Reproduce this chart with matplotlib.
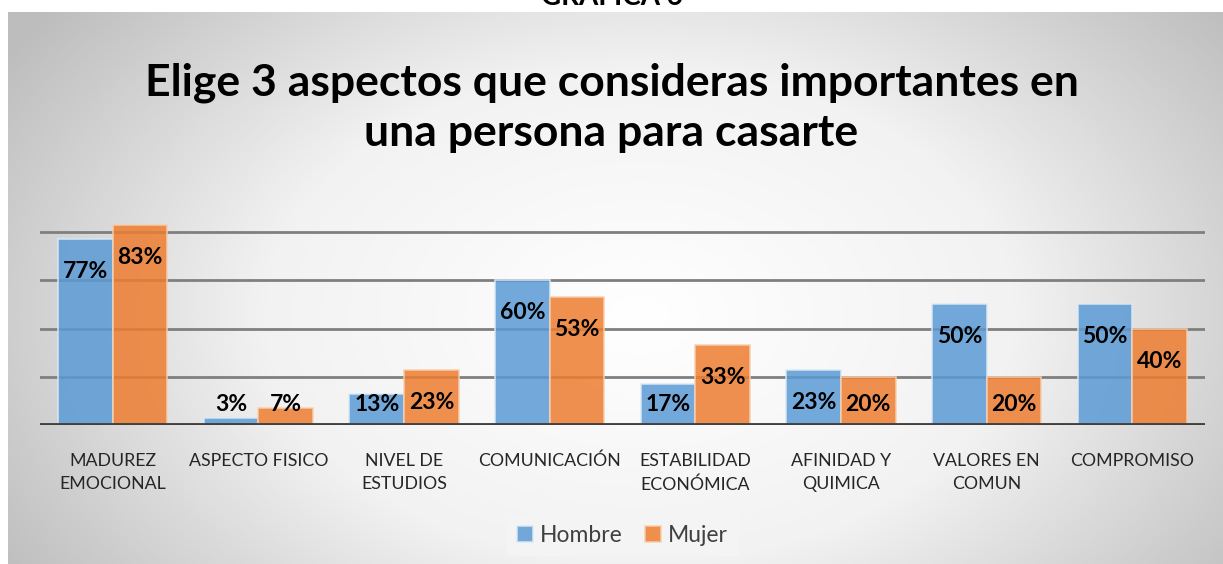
import numpy as np
import matplotlib.pyplot as plt
from matplotlib.colors import LinearSegmentedColormap

plt.rcParams["font.family"] = ["Lato", "DejaVu Sans"]

categories = ["MADUREZ\nEMOCIONAL", "ASPECTO FISICO", "NIVEL DE\nESTUDIOS", "COMUNICACIÓN",
              "ESTABILIDAD\nECONÓMICA", "AFINIDAD Y\nQUIMICA", "VALORES EN\nCOMUN", "COMPROMISO"]
hombre = [77, 3, 13, 60, 17, 23, 50, 50]
mujer = [83, 7, 23, 53, 33, 20, 20, 40]

title = "Elige 3 aspectos que consideras importantes en\nuna persona para casarte"

W, H = 1223, 564
fig = plt.figure(figsize=(W / 100, H / 100), dpi=100)
fig.patch.set_facecolor("white")

# gradient panel behind the chart
bg = fig.add_axes([8 / W, 0, 1 - 8 / W, (H - 12) / H], zorder=0)
yy, xx = np.mgrid[0:1:300j, 0:1:600j]
r = np.sqrt(((xx - 0.52) / 0.62) ** 2 + ((yy - 0.55) / 0.9) ** 2)
cmap = LinearSegmentedColormap.from_list("bgr", ["#ffffff", "#f2f2f2", "#bdbdbd"])
bg.imshow(np.clip(r, 0, 1), cmap=cmap, aspect="auto", extent=[0, 1, 0, 1], vmin=0, vmax=1)
bg.axis("off")

# heading above the panel, cut off at the top like in the source image
fig.text(0.5, 1.005, "GRAFICA 6", ha="center", va="center", fontsize=20,
         fontweight="bold", color="black", zorder=1)

fig.text(0.5, (H - 108) / H, title, ha="center", va="center", fontsize=32,
         fontweight="bold", color="black", linespacing=1.3, zorder=3)

ax = fig.add_axes([40 / W, (H - 425) / H, (1205 - 40) / W, (425 - 208) / H], zorder=2)
ax.patch.set_alpha(0)

x = np.arange(len(categories))
w = 0.375
b1 = ax.bar(x - w / 2, hombre, w, color="#5b9bd5", alpha=0.85, edgecolor="#dbe9f6", linewidth=1.2, zorder=3)
b2 = ax.bar(x + w / 2, mujer, w, color="#ed7d31", alpha=0.85, edgecolor="#f8cfae", linewidth=1.2, zorder=3)

for bars, vals in ((b1, hombre), (b2, mujer)):
    for bar, v in zip(bars, vals):
        ax.text(bar.get_x() + bar.get_width() / 2, max(v - 13.5, 8.6), f"{v}%",
                ha="center", va="center", fontsize=16.5, fontweight="bold", color="black", zorder=4)

ax.set_xlim(-0.5, len(categories) - 0.5)
ax.set_ylim(0, 90)
ax.set_yticks([20, 40, 60, 80])
ax.yaxis.grid(True, color="#7f7f7f", linewidth=2, zorder=1)
ax.axhline(0, color="#404040", linewidth=3.5, zorder=5)
ax.tick_params(axis="y", left=False, labelleft=False)
ax.tick_params(axis="x", length=0, pad=20, labelsize=12.8)
ax.set_xticks(x)
ax.set_xticklabels(categories, color="#262626", linespacing=1.55)
for s in ax.spines.values():
    s.set_visible(False)

leg = ax.legend([b1, b2], ["Hombre", "Mujer"], loc="center", bbox_to_anchor=(0.5, -0.51),
                ncol=2, frameon=True, fontsize=16.5, handlelength=0.7, handleheight=0.7,
                handletextpad=0.3, columnspacing=1.0, borderpad=0.45, fancybox=False)
leg.get_frame().set_facecolor("#f5f5f5")
leg.get_frame().set_edgecolor("none")
leg.get_frame().set_alpha(0.8)
for t in leg.get_texts():
    t.set_color("#404040")

fig.savefig("out.png", dpi=100)
